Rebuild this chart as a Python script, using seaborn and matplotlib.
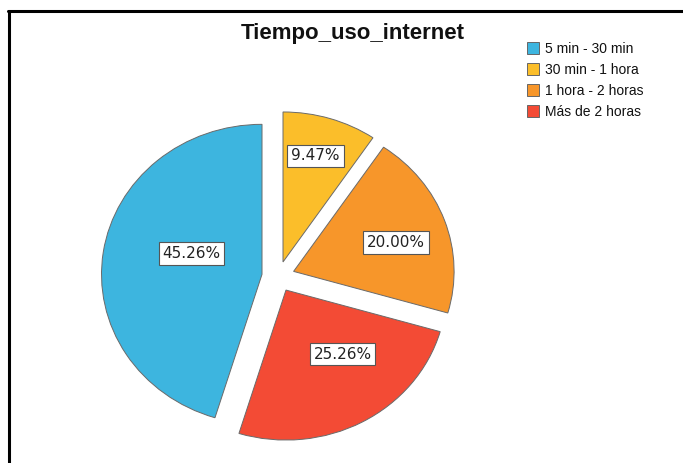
import matplotlib
matplotlib.use("Agg")
import matplotlib.pyplot as plt
import seaborn as sns
import numpy as np
from matplotlib.patches import Patch
from matplotlib.lines import Line2D

categories = ["5 min - 30 min", "30 min - 1 hora", "1 hora - 2 horas", "Más de 2 horas"]
values = [45.26, 9.47, 20.00, 25.26]
label_texts = ["45.26%", "9.47%", "20.00%", "25.26%"]
colors = ["#3DB5DF", "#FBBE2A", "#F7962A", "#F34B35"]
title = "Tiempo_uso_internet"

sns.set_theme(style="white")
plt.rcParams['font.family'] = ['Liberation Sans', 'DejaVu Sans']

W, H = 683, 463
SX = 1.07  # horizontal stretch of the pie
fig = plt.figure(figsize=(W / 100, H / 100), dpi=100)
fig.patch.set_facecolor("white")
ax = fig.add_axes([0, 0, 1, 1])

palette = sns.color_palette(colors)
R = 150
E = 15.3
cx, cy = 278.2 / SX, H - 276.6
start = 90 + 360 * values[0] / sum(values)
wedges, _ = ax.pie(values, colors=palette, explode=[E] * 4, radius=R,
                   center=(cx, cy), startangle=start, counterclock=False,
                   wedgeprops=dict(edgecolor="#6a6a6a", linewidth=0.7),
                   frame=True)
ax.set_aspect("auto")
ax.set_xlim(0, W / SX)
ax.set_ylim(0, H)
ax.axis("off")

label_frac = [0.49, 0.74, 0.71, 0.57]
label_shift = [-8, 0, -4, 13]
for w, t, f, s in zip(wedges, label_texts, label_frac, label_shift):
    ang = np.deg2rad((w.theta1 + w.theta2) / 2 + s)
    x = w.center[0] + f * R * np.cos(ang) / SX
    y = w.center[1] + f * R * np.sin(ang)
    ax.text(x, y, t, ha="center", va="center", fontsize=11,
            family=["DejaVu Sans"], color="#222222",
            bbox=dict(boxstyle="square,pad=0.25", fc="white", ec="#555555", lw=0.8))

fig.text(353 / W, 1 - 33 / H, title, ha="center", va="center",
         fontsize=16, fontweight="bold", color="#111111")

handles = [Patch(facecolor=c, edgecolor="#666666", linewidth=0.7) for c in palette]
leg = fig.legend(handles, categories, loc="upper left",
                 bbox_to_anchor=(524 / W, 1 - 39 / H), frameon=False,
                 fontsize=10, handlelength=0.9, handleheight=0.9,
                 handletextpad=0.4, labelspacing=0.5, borderaxespad=0,
                 borderpad=0.2)
for t in leg.get_texts():
    t.set_color("#111111")

fig.add_artist(Line2D([8 / W, 1], [1 - 11 / H, 1 - 11 / H], color="black", lw=2.2,
                      transform=fig.transFigure))
fig.add_artist(Line2D([9 / W, 9 / W], [0, 1 - 11 / H], color="black", lw=2.2,
                      transform=fig.transFigure))

fig.savefig("out.png", dpi=100, facecolor="white")
